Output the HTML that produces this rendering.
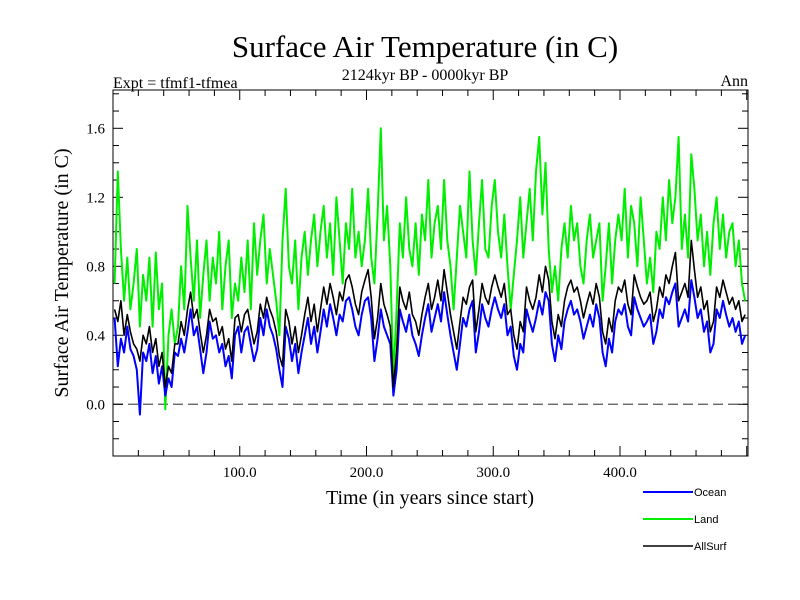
<!DOCTYPE html>
<html><head><meta charset="utf-8"><style>
html,body{margin:0;padding:0;background:#fff;}
svg{display:block;}
text{font-family:"Liberation Serif",serif;fill:#000;}
</style></head><body>
<svg id="chart" width="800" height="600" xmlns="http://www.w3.org/2000/svg">
<text x="425" y="57" font-size="31" text-anchor="middle">Surface Air Temperature (in C)</text>
<text x="425" y="80" font-size="16" text-anchor="middle">2124kyr BP - 0000kyr BP</text>
<text x="113" y="88" font-size="16">Expt = tfmf1-tfmea</text>
<text x="748" y="86" font-size="16" text-anchor="end">Ann</text>
<text transform="translate(68,273) rotate(-90)" font-size="20" text-anchor="middle">Surface Air Temperature (in C)</text>
<text x="430" y="504" font-size="20" text-anchor="middle">Time (in years since start)</text>
<g id="axes"></g>
<g id="series"></g>
<rect x="113" y="90" width="635" height="366" fill="none" stroke="#000" stroke-width="1"/>
<g>
<line x1="643" y1="492" x2="693" y2="492" stroke="#0000ff" stroke-width="2"/>
<text x="694" y="496" font-size="11" style="font-family:'Liberation Sans',sans-serif">Ocean</text>
<line x1="643" y1="519" x2="693" y2="519" stroke="#00ee00" stroke-width="2"/>
<text x="694" y="523" font-size="11" style="font-family:'Liberation Sans',sans-serif">Land</text>
<line x1="643" y1="546" x2="693" y2="546" stroke="#000" stroke-width="1.5"/>
<text x="694" y="550" font-size="11" style="font-family:'Liberation Sans',sans-serif">AllSurf</text>
</g>
</svg>
<script>
const years = [];
for (let i = 0; i < 200; i++) years.push(1.25 + 2.5 * i);
const ocean = [
0.50,0.22,0.38,0.30,0.45,0.32,0.28,0.20,-0.06,0.30,0.25,0.35,0.18,0.28,0.12,0.22,0.05,0.15,0.10,0.30,
0.28,0.38,0.30,0.42,0.55,0.40,0.45,0.32,0.18,0.30,0.48,0.38,0.40,0.30,0.35,0.22,0.28,0.15,0.40,0.45,
0.30,0.42,0.45,0.35,0.25,0.32,0.50,0.40,0.55,0.45,0.40,0.32,0.20,0.10,0.45,0.38,0.25,0.35,0.18,0.30,
0.40,0.50,0.35,0.45,0.30,0.42,0.55,0.45,0.58,0.50,0.40,0.52,0.48,0.60,0.62,0.55,0.45,0.40,0.52,0.60,
0.62,0.50,0.25,0.38,0.55,0.45,0.40,0.35,0.05,0.20,0.55,0.48,0.42,0.52,0.40,0.35,0.28,0.40,0.50,0.58,
0.42,0.50,0.58,0.48,0.65,0.52,0.40,0.30,0.20,0.35,0.50,0.45,0.55,0.60,0.30,0.42,0.58,0.50,0.45,0.55,
0.62,0.55,0.50,0.58,0.40,0.45,0.28,0.20,0.35,0.30,0.55,0.48,0.42,0.50,0.60,0.52,0.65,0.60,0.35,0.25,
0.40,0.32,0.48,0.55,0.60,0.52,0.55,0.48,0.38,0.45,0.52,0.45,0.58,0.50,0.30,0.22,0.38,0.30,0.48,0.55,
0.52,0.58,0.45,0.40,0.62,0.55,0.50,0.45,0.48,0.52,0.35,0.42,0.55,0.50,0.62,0.58,0.65,0.70,0.45,0.50,
0.55,0.48,0.72,0.62,0.50,0.55,0.42,0.48,0.30,0.35,0.55,0.50,0.60,0.52,0.45,0.50,0.42,0.48,0.35,0.40];
const land = [
0.70,1.35,0.90,0.60,0.85,0.55,0.70,0.90,0.45,0.75,0.60,0.85,0.45,0.88,0.55,0.70,-0.03,0.40,0.55,0.35,
0.45,0.80,0.55,1.15,0.85,0.60,0.95,0.50,0.75,0.95,0.60,0.85,0.70,1.00,0.55,0.80,0.95,0.50,0.70,0.60,
0.85,0.65,0.95,0.55,1.05,0.75,0.95,1.10,0.70,0.90,0.75,0.60,0.40,0.95,1.25,0.80,0.70,0.95,0.55,0.85,
1.00,0.75,0.95,1.10,0.80,1.00,1.15,0.85,1.05,0.75,1.20,0.95,0.70,1.05,0.90,1.25,0.85,1.00,0.80,0.95,
1.25,0.85,0.70,1.10,1.60,0.95,1.15,0.80,0.15,0.55,1.05,0.85,1.20,0.90,0.80,1.05,0.75,1.10,0.95,1.30,
0.85,1.05,1.15,0.90,1.30,0.95,0.80,0.55,0.85,1.15,1.00,0.85,1.35,0.95,0.75,1.05,1.30,0.90,0.85,1.15,
1.30,1.00,0.85,1.10,0.80,0.55,0.75,0.95,1.20,0.85,1.05,1.25,0.95,1.35,1.55,1.10,1.40,0.90,0.65,0.80,
0.60,0.90,1.05,0.85,1.15,0.95,1.05,0.80,0.70,0.95,1.10,0.85,0.95,1.05,0.60,0.80,1.05,0.70,0.95,1.10,
0.95,1.25,0.85,1.15,1.05,0.80,1.20,0.95,0.70,0.85,0.65,1.00,0.90,1.20,0.95,1.30,1.05,1.20,1.55,0.90,
1.10,0.85,1.45,1.25,0.95,1.10,0.80,1.00,0.75,1.05,1.20,0.90,1.10,0.85,1.00,1.05,0.80,0.95,0.70,0.60];
const allsurf = [
0.55,0.48,0.60,0.40,0.52,0.42,0.35,0.32,0.25,0.40,0.35,0.45,0.30,0.38,0.22,0.30,0.10,0.22,0.18,0.35,
0.35,0.48,0.40,0.55,0.65,0.50,0.55,0.42,0.30,0.40,0.55,0.48,0.50,0.40,0.45,0.32,0.38,0.25,0.50,0.52,
0.42,0.52,0.55,0.45,0.35,0.42,0.58,0.50,0.62,0.55,0.50,0.42,0.28,0.22,0.55,0.48,0.35,0.45,0.30,0.40,
0.52,0.62,0.48,0.58,0.42,0.55,0.68,0.58,0.70,0.62,0.52,0.65,0.60,0.72,0.75,0.68,0.58,0.52,0.65,0.72,
0.78,0.62,0.38,0.50,0.70,0.58,0.52,0.45,0.10,0.30,0.68,0.60,0.55,0.65,0.52,0.48,0.40,0.52,0.62,0.70,
0.55,0.62,0.72,0.60,0.78,0.65,0.52,0.42,0.32,0.48,0.62,0.58,0.68,0.72,0.42,0.55,0.70,0.62,0.58,0.68,
0.75,0.68,0.62,0.70,0.52,0.55,0.40,0.32,0.48,0.42,0.68,0.60,0.55,0.62,0.75,0.65,0.80,0.72,0.48,0.38,
0.52,0.45,0.60,0.68,0.72,0.65,0.68,0.60,0.50,0.58,0.65,0.58,0.70,0.62,0.42,0.35,0.50,0.42,0.60,0.68,
0.65,0.72,0.58,0.52,0.75,0.68,0.62,0.58,0.60,0.65,0.48,0.55,0.68,0.62,0.75,0.70,0.80,0.88,0.60,0.65,
0.70,0.62,0.95,0.78,0.62,0.68,0.55,0.60,0.42,0.48,0.68,0.62,0.72,0.65,0.58,0.62,0.55,0.60,0.48,0.52];
const xTickLabels = ["100.0","200.0","300.0","400.0"];
const xTickValues = [100,200,300,400];
const yTickLabels = ["0.0","0.4","0.8","1.2","1.6"];
const yTickValues = [0,0.4,0.8,1.2,1.6];

const NS = "http://www.w3.org/2000/svg";
const X0 = 113, X1 = 748, Y0 = 90, Y1 = 456;
const xMin = 0, xMax = 501, yMin = -0.3, yMax = 1.822;
function xs(v){ return X0 + (v - xMin) / (xMax - xMin) * (X1 - X0); }
function ys(v){ return Y1 - (v - yMin) / (yMax - yMin) * (Y1 - Y0); }
function mk(tag, attrs, parent){ const e = document.createElementNS(NS, tag); for (const k in attrs) e.setAttribute(k, attrs[k]); parent.appendChild(e); return e; }

const axes = document.getElementById('axes');
const z = mk('line', {x1:X0, x2:X1, y1:ys(0), y2:ys(0), stroke:'#555', 'stroke-width':1.2, 'stroke-dasharray':'10,5'}, axes);


for (let v = 20; v < xMax; v += 20) {
  const major = v % 100 === 0;
  const len = major ? 10 : 6;
  const t1 = mk('line', {x1:xs(v), x2:xs(v), y1:Y1, y2:Y1-len, stroke:'#000'}, axes);
  
  
  const t2 = mk('line', {x1:xs(v), x2:xs(v), y1:Y0, y2:Y0+len, stroke:'#000'}, axes);
  
  
}
xTickValues.forEach((v, i) => {
  const t = mk('text', {x:xs(v), y:477, 'font-size':15, 'text-anchor':'middle'}, axes);
  t.textContent = xTickLabels[i];
  
  
});
for (let k = -2; k <= 18; k++) {
  const v = k / 10;
  if (v < yMin || v > yMax) continue;
  const major = k % 4 === 0;
  const len = major ? 10 : 6;
  const t1 = mk('line', {x1:X0, x2:X0+len, y1:ys(v), y2:ys(v), stroke:'#000'}, axes);
  
  
  const t2 = mk('line', {x1:X1, x2:X1-len, y1:ys(v), y2:ys(v), stroke:'#000'}, axes);
  
  
}
yTickValues.forEach((v, i) => {
  const t = mk('text', {x:105, y:ys(v)+5, 'font-size':15, 'text-anchor':'end'}, axes);
  t.textContent = yTickLabels[i];
  
  
});

const sg = document.getElementById('series');
function drawSeries(vals, color, w, name) {
  const d = vals.map((v, i) => (i ? 'L' : 'M') + xs(years[i]).toFixed(1) + ',' + ys(v).toFixed(1)).join(' ');
  const p = mk('path', {d:d, fill:'none', stroke:color, 'stroke-width':w, 'stroke-linejoin':'round'}, sg);
  
  
}
drawSeries(land, '#00ee00', 2, 'land-series');
drawSeries(ocean, '#0000ff', 2, 'ocean-series');
drawSeries(allsurf, '#000000', 1.6, 'allsurf-series');
</script>
</body></html>
